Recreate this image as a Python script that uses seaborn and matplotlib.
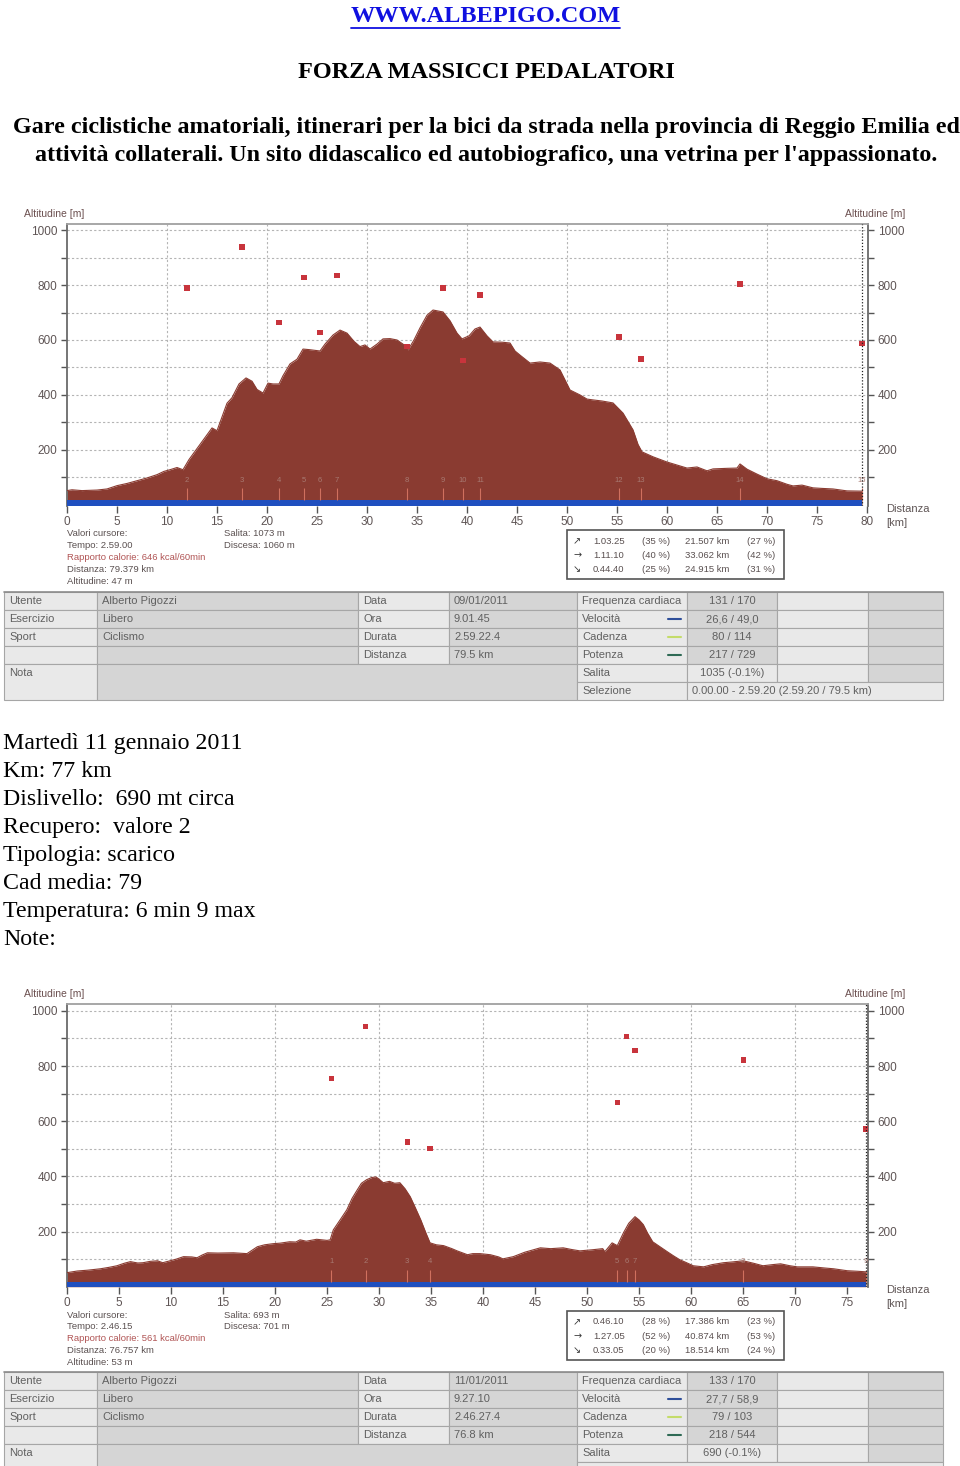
import numpy as np
import pandas as pd
import seaborn as sns
import matplotlib.pyplot as plt
from matplotlib.patches import Rectangle

# ---- data: ride 1 (09/01/2011) ----
km1 = [0.0, 0.5, 1.5, 3.0, 4.0, 5.0, 6.0, 7.0, 8.0, 9.0, 9.7, 10.3, 11.0, 11.6, 12.2, 13.0,
       14.0, 14.5, 15.0, 15.5, 16.0, 16.5, 17.2, 17.9, 18.5, 19.0, 19.6, 20.1, 20.6, 21.2, 21.6,
       22.3, 23.0, 23.6, 24.2, 25.3, 25.8, 26.6, 27.3, 28.0, 28.7, 29.3, 29.8, 30.3, 31.0, 31.6,
       32.3, 33.0, 33.6, 34.1, 34.7, 35.3, 36.0, 36.6, 37.6, 38.3, 39.0, 39.5, 40.2, 40.8, 41.3,
       42.0, 42.6, 43.5, 44.3, 44.8, 45.3, 46.3, 47.3, 48.3, 49.3, 50.3, 51.3, 52.0, 52.6, 53.5,
       54.6, 55.6, 56.6, 57.1, 57.5, 58.6, 60.0, 61.0, 62.0, 63.0, 64.0, 64.6, 66.0, 67.0, 67.3,
       68.0, 69.0, 70.0, 71.0, 72.0, 72.6, 73.5, 74.6, 75.5, 76.6, 78.0, 79.5]
alt1 = [52, 55, 52, 54, 58, 70, 78, 88, 98, 110, 122, 128, 136, 128, 165, 205,
        255, 280, 270, 320, 370, 390, 440, 462, 450, 420, 407, 443, 440, 440, 470,
        513, 530, 567, 565, 560, 585, 618, 636, 625, 595, 576, 582, 567, 585, 604,
        605, 600, 585, 564, 600, 644, 690, 709, 702, 670, 625, 604, 615, 640, 647,
        615, 593, 592, 589, 560, 545, 516, 520, 516, 491, 418, 400, 385, 382, 378,
        371, 334, 273, 220, 193, 175, 156, 145, 134, 138, 124, 131, 133, 134, 149,
        130, 112, 95, 88, 75, 69, 72, 62, 60, 58, 51, 50]
lap_km1 = [12.0, 17.5, 21.2, 23.7, 25.3, 27.0, 34.0, 37.6, 39.6, 41.3, 55.2, 57.4, 67.3, 79.5]
lap_val1 = [789, 938, 665, 826, 627, 836, 576, 789, 524, 764, 611, 531, 804, 586]
lap_names1 = [str(i) for i in range(2, 16)]

# ---- data: ride 2 (11/01/2011) ----
km2 = [0.0, 1.0, 2.0, 3.2, 4.0, 4.8, 5.5, 6.1, 6.8, 7.3, 8.0, 8.7, 9.2, 10.0, 10.5, 11.2,
       12.0, 12.5, 13.0, 13.5, 14.5, 16.0, 17.3, 18.3, 19.0, 19.8, 20.5, 21.4, 22.0, 22.4, 23.0,
       24.0, 25.0, 25.3, 25.6, 26.3, 26.9, 27.4, 27.9, 28.3, 28.8, 29.3, 29.7, 30.0, 30.4, 31.0,
       31.5, 32.0, 32.5, 33.0, 33.5, 34.0, 34.5, 34.9, 35.5, 36.2, 37.0, 37.5, 38.5, 39.0, 39.7,
       40.7, 41.5, 41.9, 42.9, 44.0, 45.5, 46.5, 47.7, 48.5, 49.3, 50.5, 51.5, 51.7, 52.4, 52.9,
       53.5, 54.0, 54.6, 55.0, 55.4, 55.8, 56.3, 57.0, 57.7, 58.3, 58.9, 59.5, 60.2, 61.2, 62.0,
       63.1, 64.0, 65.0, 66.0, 66.9, 67.8, 68.6, 69.5, 70.2, 71.7, 72.8, 73.7, 75.0, 76.0, 76.8]
alt2 = [51, 57, 60, 65, 70, 76, 85, 91, 86, 87, 92, 94, 87, 95, 100, 109,
        108, 105, 115, 123, 122, 123, 120, 145, 152, 156, 158, 163, 162, 170, 165,
        172, 168, 170, 206, 245, 279, 320, 351, 375, 388, 396, 398, 390, 377, 382,
        375, 377, 355, 326, 285, 243, 195, 159, 152, 149, 138, 130, 116, 120, 120,
        116, 108, 101, 109, 125, 141, 138, 141, 135, 130, 134, 138, 127, 159, 149,
        196, 230, 254, 242, 225, 195, 163, 145, 127, 112, 98, 88, 76, 72, 80,
        87, 90, 94, 85, 76, 80, 83, 76, 72, 72, 68, 65, 58, 56, 54]
lap_km2 = [25.4, 28.7, 32.7, 34.9, 52.9, 53.8, 54.6, 65.0, 76.8]
lap_val2 = [754, 942, 525, 500, 667, 906, 855, 822, 572]
lap_names2 = [str(i) for i in range(1, 10)]

info1 = ['Valori cursore:', 'Tempo: 2.59.00', 'Rapporto calorie: 646 kcal/60min',
         'Distanza: 79.379 km', 'Altitudine: 47 m']
climb1 = ['Salita: 1073 m', 'Discesa: 1060 m']
split1 = [['1.03.25', '(35 %)', '21.507 km', '(27 %)'],
          ['1.11.10', '(40 %)', '33.062 km', '(42 %)'],
          ['0.44.40', '(25 %)', '24.915 km', '(31 %)']]
info2 = ['Valori cursore:', 'Tempo: 2.46.15', 'Rapporto calorie: 561 kcal/60min',
         'Distanza: 76.757 km', 'Altitudine: 53 m']
climb2 = ['Salita: 693 m', 'Discesa: 701 m']
split2 = [['0.46.10', '(28 %)', '17.386 km', '(23 %)'],
          ['1.27.05', '(52 %)', '40.874 km', '(53 %)'],
          ['0.33.05', '(20 %)', '18.514 km', '(24 %)']]

tab_left = [['Utente', 'Alberto Pigozzi', 'Data'], ['Esercizio', 'Libero', 'Ora'],
            ['Sport', 'Ciclismo', 'Durata'], ['', '', 'Distanza']]
tab_right_labels = ['Frequenza cardiaca', 'Velocità', 'Cadenza', 'Potenza', 'Salita', 'Selezione']
tab1_vals = ['09/01/2011', '9.01.45', '2.59.22.4', '79.5 km']
tab1_right = ['131 / 170', '26,6 / 49,0', '80 / 114', '217 / 729', '1035 (-0.1%)',
              '0.00.00 - 2.59.20 (2.59.20 / 79.5 km)']
tab2_vals = ['11/01/2011', '9.27.10', '2.46.27.4', '76.8 km']
tab2_right = ['133 / 170', '27,7 / 58,9', '79 / 103', '218 / 544', '690 (-0.1%)']

notes = ['Martedì 11 gennaio 2011', 'Km: 77 km', 'Dislivello:  690 mt circa',
         'Recupero:  valore 2', 'Tipologia: scarico', 'Cad media: 79',
         'Temperatura: 6 min 9 max', 'Note:']

# ---- style ----
sns.set_theme(style='white')
plt.rcParams['font.family'] = ['Liberation Sans', 'DejaVu Sans']
FILL = '#8a3b31'
RED = '#c8343c'
BLUE = '#1f4fbf'
TXT = '#5f5555'
GRID = '#b4b4b4'
W, H = 960, 1466

fig = plt.figure(figsize=(9.6, 14.66), dpi=100)
page = fig.add_axes([0, 0, 1, 1])
page.set_xlim(0, W)
page.set_ylim(H, 0)
page.axis('off')

# ---- header ----
serif = 'Liberation Serif'
page.text(486, 17, 'WWW.ALBEPIGO.COM', ha='center', va='center', family=serif,
          weight='bold', size=17.5, color='#1010e0')
page.plot([351, 620], [28, 28], color='#1010e0', lw=1.3)
page.text(486, 72, 'FORZA MASSICCI PEDALATORI', ha='center', va='center', family=serif,
          weight='bold', size=17.5, color='black')
page.text(486, 128, 'Gare ciclistiche amatoriali, itinerari per la bici da strada nella provincia '
          'di Reggio Emilia ed', ha='center', va='center', family=serif, weight='bold',
          size=17.3, color='black')
page.text(486, 156, "attività collaterali. Un sito didascalico ed autobiografico, una vetrina per "
          "l'appassionato.", ha='center', va='center', family=serif, weight='bold',
          size=17.3, color='black')

for i, line in enumerate(notes):
    page.text(3, 744 + i * 27.9, line, ha='left', va='center', family=serif, size=17.2,
              color='black')


def draw_chart(top, bottom, xmax, ymin, ymax, km, alt, lap_km, lap_val, lap_names,
               xticks, info, climb, split):
    left, right = 67, 868
    ax = fig.add_axes([left / W, 1 - bottom / H, (right - left) / W, (bottom - top) / H])
    ax.set_xlim(0, xmax)
    ax.set_ylim(ymin, ymax)
    for v in range(100, 1001, 100):
        ax.axhline(v, color=GRID, ls=(0, (2, 2)), lw=0.8, zorder=0)
    for v in range(10, int(xmax), 10):
        ax.axvline(v, color=GRID, ls=(0, (2, 2)), lw=0.8, zorder=0)
    df = pd.DataFrame({'km': km, 'alt': alt})
    ax.fill_between(df['km'], 0, df['alt'], color=FILL, lw=0, zorder=2)
    sns.lineplot(data=df, x='km', y='alt', color=FILL, lw=0.8, ax=ax, zorder=3)
    ax.fill_between([km[0], km[-1]], ymin, 18, color=BLUE, lw=0, zorder=4)
    ax.vlines(lap_km, 18, 62, color='#d0705e', lw=0.8, zorder=4)
    for x, name in zip(lap_km, lap_names):
        ax.text(x, 90, name, ha='center', va='center', size=5.5, color='#a87a72', zorder=4)
    sns.scatterplot(x=lap_km, y=lap_val, marker='s', s=14, color=RED, edgecolor='none',
                    ax=ax, zorder=5)
    ax.axvline(km[-1], color='#222222', ls=(0, (1, 1.5)), lw=0.9, zorder=5)
    ax.set_xlabel('')
    ax.set_ylabel('')
    ax.set_xticks(xticks)
    ax.set_yticks([200, 400, 600, 800, 1000])
    ax.set_yticks([100, 300, 500, 700, 900], minor=True)
    ax.tick_params(axis='y', which='both', left=True, right=True, labelleft=True,
                   labelright=True, direction='out', length=4, width=1, color='#555555',
                   labelsize=8.5, labelcolor=TXT, pad=3)
    ax.tick_params(axis='x', bottom=True, direction='out', length=5, width=1,
                   color='#555555', labelsize=8.5, labelcolor=TXT, pad=2)
    for s in ['left', 'right']:
        ax.spines[s].set_color('#6a6a6a')
        ax.spines[s].set_linewidth(1.3)
    ax.spines['top'].set_color('#a0a0a0')
    ax.spines['top'].set_linewidth(1.3)
    ax.spines['bottom'].set_visible(False)

    page.text(24, top - 10, 'Altitudine [m]', ha='left', va='center', size=7.5, color='#6b4f4f')
    page.text(845, top - 10, 'Altitudine [m]', ha='left', va='center', size=7.5, color='#6b4f4f')
    page.text(886, bottom + 3, 'Distanza', ha='left', va='center', size=8, color=TXT)
    page.text(886, bottom + 17, '[km]', ha='left', va='center', size=8, color=TXT)

    for i, line in enumerate(info):
        col = '#b05454' if line.startswith('Rapporto') else '#5a5050'
        page.text(67, bottom + 28 + i * 11.8, line, ha='left', va='center', size=6.8, color=col)
    for i, line in enumerate(climb):
        page.text(224, bottom + 28 + i * 11.8, line, ha='left', va='center', size=6.8,
                  color='#5a5050')
    page.add_patch(Rectangle((567, bottom + 24), 217, 49, fill=False, ec='#555555', lw=1.2))
    for i, (row, arrow) in enumerate(zip(split, ['↗', '→', '↘'])):
        y = bottom + 35 + i * 14.3
        page.text(573, y, arrow, ha='left', va='center', size=7, color='#3a3a3a',
                  family=['DejaVu Sans'])
        for x, t in zip([593, 642, 685, 747], row):
            page.text(x, y, t, ha='left', va='center', size=6.8, color='#5a5050')
    return ax


draw_chart(224, 506, 80.1, -4, 1022, km1, alt1, lap_km1, lap_val1, lap_names1,
           list(range(0, 81, 5)), info1, climb1, split1)
draw_chart(1004, 1287, 77.0, -1, 1025, km2, alt2, lap_km2, lap_val2, lap_names2,
           list(range(0, 76, 5)), info2, climb2, split2)


def draw_table(top, vals, right_vals):
    cols = [4, 97, 358, 449, 577, 687, 777, 868, 943]
    rh = 18
    light, dark = '#e9e9e9', '#d5d5d5'
    ec = '#a6a6a6'

    def cell(x0, x1, r0, r1, shade, text='', ha='left', ty=None):
        y0 = top + r0 * rh
        page.add_patch(Rectangle((x0, y0), x1 - x0, (r1 - r0) * rh, fc=shade, ec=ec, lw=0.8))
        if text:
            tx = x0 + 5 if ha == 'left' else (x0 + x1) / 2
            page.text(tx, y0 + 9.5 if ty is None else ty, text, ha=ha, va='center', size=8,
                      color='#606060')

    for r in range(4):
        cell(cols[0], cols[1], r, r + 1, light, tab_left[r][0])
        cell(cols[1], cols[2], r, r + 1, dark, tab_left[r][1])
        cell(cols[2], cols[3], r, r + 1, light, tab_left[r][2])
        cell(cols[3], cols[4], r, r + 1, dark, vals[r])
    cell(cols[0], cols[1], 4, 6, light, 'Nota', ty=top + 4 * rh + 9.5)
    cell(cols[1], cols[4], 4, 6, dark)
    for r in range(5):
        cell(cols[4], cols[5], r, r + 1, light, tab_right_labels[r])
        cell(cols[5], cols[6], r, r + 1, dark if r < 4 else light, right_vals[r], ha='center')
        cell(cols[6], cols[7], r, r + 1, light)
        cell(cols[7], cols[8], r, r + 1, dark)
    if len(right_vals) > 5:
        cell(cols[4], cols[5], 5, 6, light, tab_right_labels[5])
        cell(cols[5], cols[8], 5, 6, light, right_vals[5])
    else:
        cell(cols[4], cols[8], 5, 6, light)
    for r, c in zip([1, 2, 3], ['#2f4f9a', '#c4dc6a', '#2f6a55']):
        y = top + r * rh + 9
        page.plot([668, 681], [y, y], color=c, lw=1.5)
    page.plot([cols[0], cols[8]], [top, top], color='#8c8c8c', lw=1.2)


draw_table(592, tab1_vals, tab1_right)
draw_table(1372, tab2_vals, tab2_right)

fig.savefig('out.png', dpi=100)
